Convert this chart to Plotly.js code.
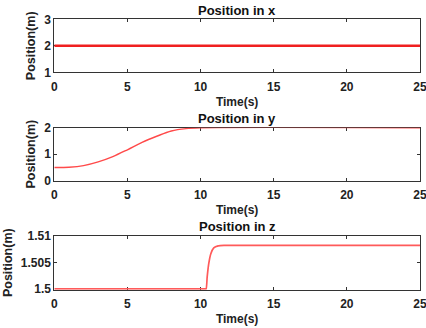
<!DOCTYPE html>
<html><head><meta charset="utf-8">
<script src="https://cdn.plot.ly/plotly-3.0.1.min.js"></script>
<style>html,body{margin:0;padding:0;background:#fff}#c{width:426px;height:328px}</style>
</head><body><div id="c"></div>
<script>
// Position in x
const tX = [0, 25];
const posX = [2, 2];
// Position in y
const tY = [0, 1, 2, 3, 4, 5, 6, 7, 8, 9, 10, 25];
const posY = [0.5, 0.51, 0.57, 0.71, 0.91, 1.17, 1.45, 1.68, 1.88, 1.97, 2.0, 2.0];
// Position in z
const tZ = [0, 5, 10, 10.3, 10.38, 10.45, 10.55, 10.7, 10.9, 11.2, 11.6, 25];
const posZ = [1.5, 1.5, 1.5, 1.5, 1.5, 1.5022, 1.5046, 1.5066, 1.5077, 1.5081, 1.5082, 1.5082];

const titles = ['Position in x', 'Position in y', 'Position in z'];
const xTicks = [0, 5, 10, 15, 20, 25];
const yTicks1 = [1, 2, 3];
const yTicks2 = [0, 1, 2];
const yTicks3 = [1.5, 1.505, 1.51];
const yTickText3 = ['1.5', '1.505', '1.51'];

const F = 'Liberation Sans, Arial, sans-serif';
const xDom = [54.3/426, 420/426];
const doms = [[1-72.3/328, 1-19.3/328], [1-180.7/328, 1-127.7/328], [1-289.7/328, 1-235.7/328]];

function xa(anchor) {
  return {domain: xDom, anchor: anchor, range: [0, 25], tickvals: xTicks, ticks: 'inside', ticklen: 3,
    tickcolor: '#333', linecolor: '#333', linewidth: 1, mirror: 'ticks', showline: true, showgrid: false, zeroline: false,
    layer: 'below traces', ticklabeloverflow: 'allow', ticklabelstandoff: 3,
    tickfont: {family: F, size: 12, color: '#222', weight: 'bold'},
    title: {text: 'Time(s)', font: {family: F, size: 12, color: '#222', weight: 'bold'}, standoff: 4}};
}
function ya(anchor, dom, range, vals, text) {
  const o = {domain: dom, anchor: anchor, range: range, tickvals: vals, ticks: 'inside', ticklen: 3,
    tickcolor: '#333', linecolor: '#333', linewidth: 1, mirror: 'ticks', showline: true, showgrid: false, zeroline: false,
    layer: 'below traces', ticklabeloverflow: 'allow',
    tickfont: {family: F, size: 12, color: '#222', weight: 'bold'},
    title: {text: 'Position(m)', font: {family: F, size: 12.5, color: '#222', weight: 'bold'}, standoff: 5}};
  if (text) o.ticktext = text;
  return o;
}

const data = [
  {x: tX, y: posX, xaxis: 'x', yaxis: 'y', mode: 'lines', cliponaxis: false, line: {color: '#f02020', width: 2.5}},
  {x: tY, y: posY, xaxis: 'x2', yaxis: 'y2', mode: 'lines', cliponaxis: false, line: {color: '#ff4a4a', width: 1.4, shape: 'spline'}},
  {x: tZ, y: posZ, xaxis: 'x3', yaxis: 'y3', mode: 'lines', cliponaxis: false, line: {color: '#ff5a5a', width: 1.7, shape: 'spline', smoothing: 0.5}}
];

const titleY = [10, 118, 227];
const annotations = titles.map((t, i) => ({text: t, xref: 'paper', yref: 'paper', x: 237/426, y: 1 - titleY[i]/328,
  xanchor: 'center', yanchor: 'middle', showarrow: false, font: {family: F, size: 13, color: '#111', weight: 'bold'}}));

const layout = {
  width: 426, height: 328, margin: {l: 0, r: 0, t: 0, b: 0}, showlegend: false,
  paper_bgcolor: '#fff', plot_bgcolor: '#fff',
  xaxis: xa('y'), yaxis: ya('x', doms[0], [1, 3], yTicks1),
  xaxis2: xa('y2'), yaxis2: ya('x2', doms[1], [0, 2.004], yTicks2),
  xaxis3: xa('y3'), yaxis3: ya('x3', doms[2], [1.49985, 1.51], yTicks3, yTickText3),
  annotations: annotations
};
Plotly.newPlot('c', data, layout, {staticPlot: true, displayModeBar: false});
</script></body></html>
